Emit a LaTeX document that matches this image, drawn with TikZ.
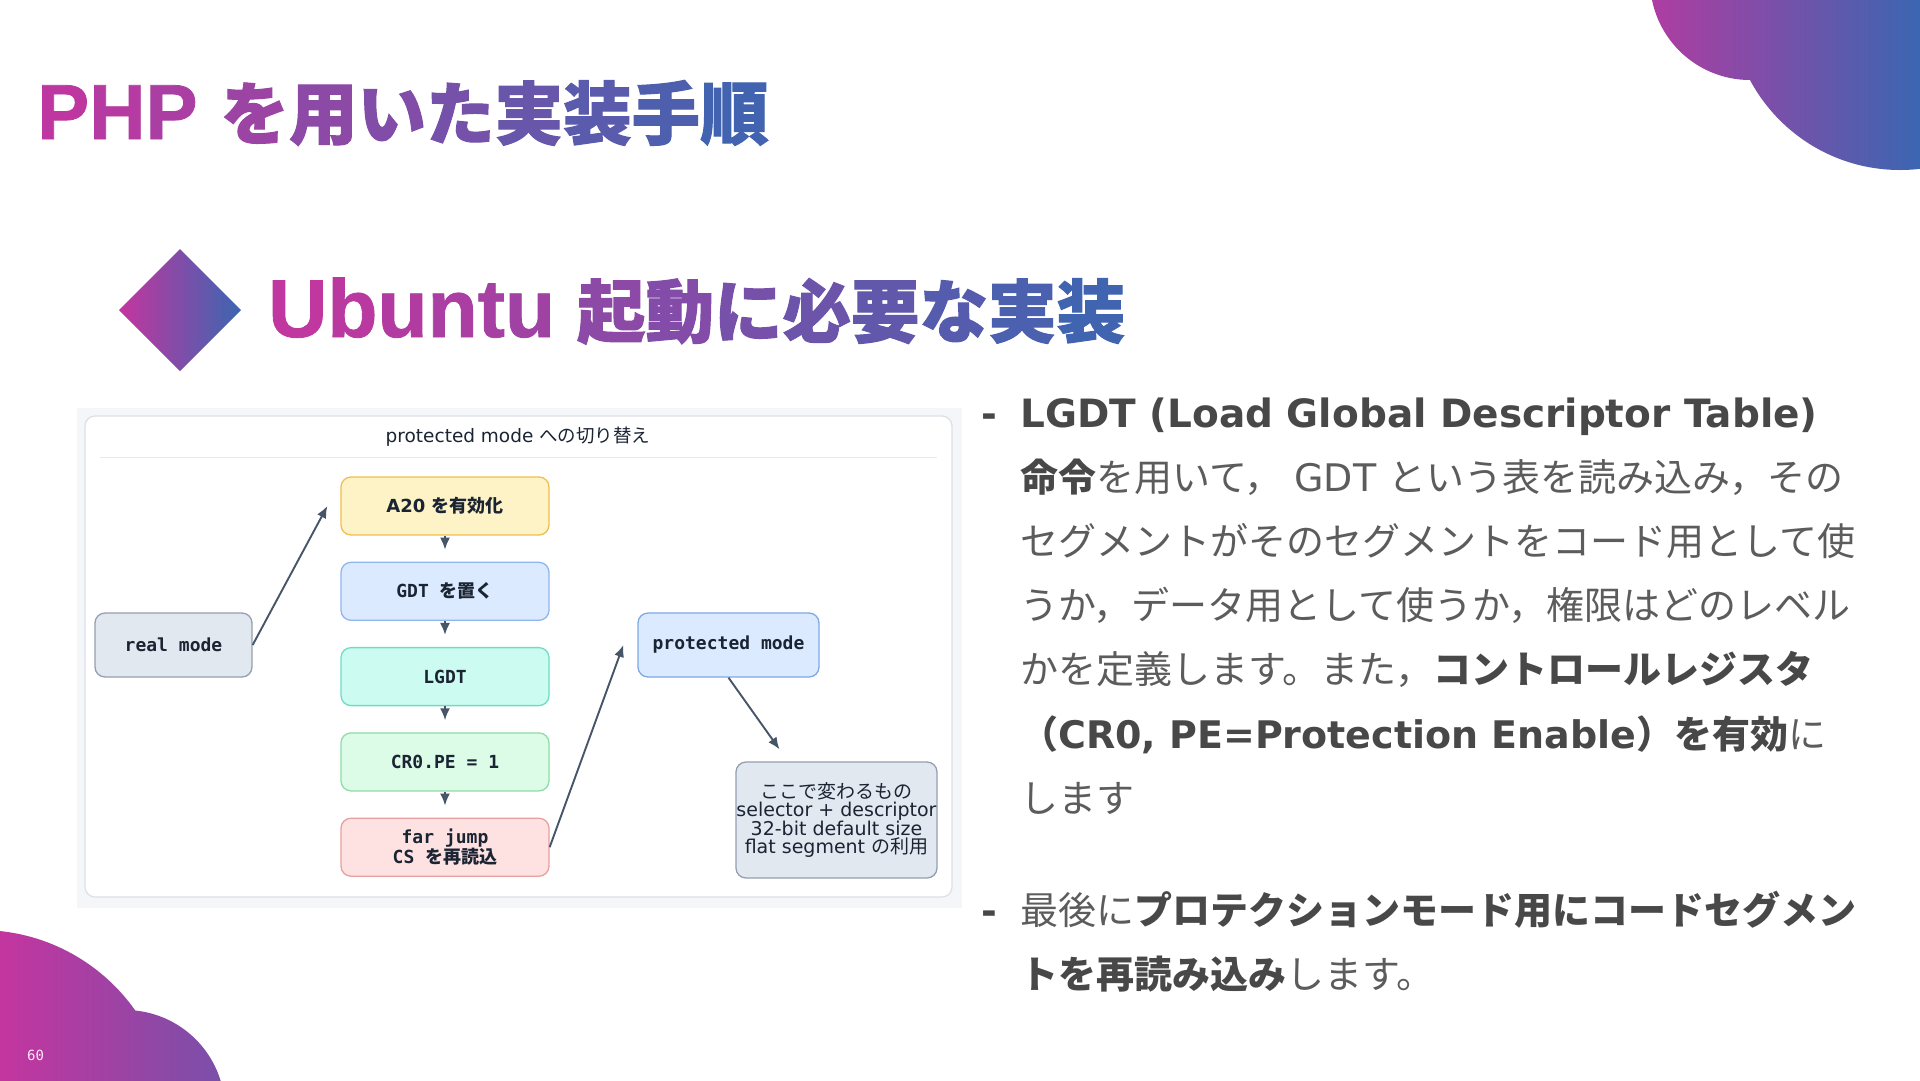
\documentclass[tikz,border=0pt]{standalone}
\usepackage{fontspec}
\setmainfont{DejaVu Sans}
\setmonofont{DejaVu Sans Mono}
\newfontfamily\jp{Noto Sans CJK JP}
\newfontfamily\jphead{Noto Sans CJK JP}[BoldFeatures={FakeBold=1.5}]
\newfontfamily\headlat{Liberation Sans}[BoldFeatures={FakeBold=1}]
\usepackage{tikz}
\usetikzlibrary{arrows.meta,positioning}
\usepackage{xcolor}
\definecolor{GradMag}{HTML}{C4359F}
\definecolor{GradBlue}{HTML}{3B66B1}
\definecolor{BodyGray}{HTML}{5C5C5C}
\definecolor{BodyDark}{HTML}{484848}
\definecolor{PanelBg}{HTML}{F4F6F9}
\definecolor{PanelLine}{HTML}{DCE0E5}
\definecolor{DiagText}{HTML}{1B2433}
\definecolor{ArrowSlate}{HTML}{475569}
\definecolor{AmberFill}{HTML}{FEF3C7}
\definecolor{AmberLine}{HTML}{F0BE50}
\definecolor{SkyFill}{HTML}{DBEAFE}
\definecolor{SkyLine}{HTML}{8FB6EE}
\definecolor{MintFill}{HTML}{CCFBF1}
\definecolor{MintLine}{HTML}{6FDCC5}
\definecolor{LeafFill}{HTML}{DCFCE7}
\definecolor{LeafLine}{HTML}{8EDCA8}
\definecolor{RoseFill}{HTML}{FEE2E2}
\definecolor{RoseLine}{HTML}{E8A0A0}
\definecolor{SlateFill}{HTML}{E2E8F0}
\definecolor{SlateLine}{HTML}{949FB0}
\definecolor{PmLine}{HTML}{7FA8E6}
\newcommand\gc[2]{\textcolor{GradBlue!#1!GradMag}{#2}}
\newcommand\ja[1]{{\jp #1}}
\newcommand\bodybf[1]{{\bfseries\color{BodyDark}#1}}

\begin{document}
\begin{tikzpicture}[x=1pt,y=-1pt,>=Latex,
  stepbox/.style={draw, rounded corners=10pt, line width=1.3pt, minimum width=208pt, minimum height=58pt, align=center, text=DiagText, inner sep=2pt},
  codefont/.style={font=\ttfamily\bfseries\fontsize{18}{18}\selectfont},
  flow/.style={-{Latex[length=12pt,width=10pt]}, line width=1.9pt, draw=ArrowSlate},
  bodytext/.style={anchor=base west, inner sep=0pt, text=BodyGray, font=\fontsize{38}{64}\selectfont}]
  \useasboundingbox (0,0) rectangle (1920,1080);
  \fill[white] (0,0) rectangle (1920,1080);

  % corner blobs
  \begin{scope}
    \clip (1750,-20) circle (100pt) (1900,0) circle (170pt);
    \shade[left color=GradMag!85!GradBlue, right color=GradBlue] (1650,0) rectangle (1920,175);
  \end{scope}
  \begin{scope}
    \clip (-20,1120) circle (190pt) (125,1110) circle (100pt);
    \shade[left color=GradMag, right color=GradMag!45!GradBlue] (0,925) rectangle (226,1080);
  \end{scope}
  \node[font=\ttfamily\fontsize{14}{14}\selectfont, text=white!90!GradMag, anchor=base west, inner sep=0pt] (pgno) at (27,1060) {60};

  % headings
  \node[anchor=base west, inner sep=0pt] (slidetitle) at (37,139) {{\headlat\bfseries\fontsize{78}{80}\selectfont\gc{4}{P}\gc{11}{H}\gc{19}{P}}\hspace{23pt}{\jphead\bfseries\fontsize{68.5}{80}\selectfont\gc{30}{を}\gc{40}{用}\gc{49}{い}\gc{58}{た}\gc{67}{実}\gc{77}{装}\gc{86}{手}\gc{95}{順}}};
  \shade[left color=GradMag, right color=GradBlue] (119,310) -- (180,249) -- (241,310) -- (180,371) -- cycle;
  \node[anchor=base west, inner sep=0pt] (sectitle) at (268,337) {{\headlat\bfseries\fontsize{82}{84}\selectfont\gc{3}{U}\gc{8}{b}\gc{13}{u}\gc{18}{n}\gc{22}{t}\gc{27}{u}}\hspace{22pt}{\jphead\bfseries\fontsize{68.5}{80}\selectfont\gc{40}{起}\gc{48}{動}\gc{56}{に}\gc{64}{必}\gc{72}{要}\gc{80}{な}\gc{88}{実}\gc{96}{装}}};

  % diagram panel
  \fill[PanelBg] (77,408) rectangle (962,908);
  \draw[PanelLine, fill=white, line width=1.2pt, rounded corners=10pt] (85,416) rectangle (952,897);
  \node[font=\fontsize{18.5}{19}\selectfont, text=DiagText] (paneltitle) at (518,437) {protected mode \ja{への切り替え}};
  \draw[PanelLine!70, line width=1pt] (100,457) -- (937,457);

  \node[stepbox, fill=AmberFill, draw=AmberLine, font=\bfseries\fontsize{18}{18}\selectfont] (a20) at (445,506) {A20 \ja{を有効化}};
  \node[stepbox, fill=SkyFill, draw=SkyLine, codefont, below=26pt of a20] (gdt) {GDT \ja{を置く}};
  \node[stepbox, fill=MintFill, draw=MintLine, codefont, below=26pt of gdt] (lgdt) {LGDT};
  \node[stepbox, fill=LeafFill, draw=LeafLine, codefont, below=26pt of lgdt] (cr0) {CR0.PE = 1};
  \node[stepbox, fill=RoseFill, draw=RoseLine, codefont, below=26pt of cr0] (jump) {far jump\\CS \ja{を再読込}};
  \node[stepbox, fill=SlateFill, draw=SlateLine, codefont, minimum width=157pt, minimum height=64pt] (real) at (173.5,645) {real mode};
  \node[stepbox, fill=SkyFill, draw=PmLine, codefont, minimum width=181pt, minimum height=64pt] (pm) at (728.5,645) {protected mode};
  \node[stepbox, fill=SlateFill, draw=SlateLine, minimum width=201pt, minimum height=116pt, inner sep=0pt, font=\fontsize{19}{18.5}\selectfont] (chg) at (836.5,820) {\ja{ここで変わるもの}\\selector + descriptor\\32-bit default size\\flat segment \ja{の利用}};

  \draw[flow] (real.east) -- ([xshift=-13pt]a20.west);
  \foreach \a/\b in {a20/gdt,gdt/lgdt,lgdt/cr0,cr0/jump}
    \draw[flow, shorten >=12pt] (\a) -- (\b);
  \draw[flow] (jump.east) -- ([xshift=-14pt]pm.west);
  \draw[flow] (pm.south) -- ([xshift=-57pt,yshift=12pt]chg.north);

  % explanation text
  \node[bodytext] (dashA) at (981,427) {\bodybf{-}};
  \foreach \txt [count=\i from 0] in {
    {\bodybf{\fontsize{39}{64}\selectfont LGDT (Load Global Descriptor Table)}},
    {\bodybf{\ja{命令}}\ja{を用いて，} GDT \ja{という表を読み込み，その}},
    {\ja{セグメントがそのセグメントをコード用として使}},
    {\ja{うか，データ用として使うか，権限はどのレベル}},
    {\ja{かを定義します。また，}\bodybf{\ja{コントロールレジスタ}}},
    {\bodybf{\ja{（}CR0, PE=Protection Enable\ja{）を有効}}\ja{に}},
    {\ja{します}}}
    \node[bodytext] (bodyA\i) at (1020,{427+64.2*\i}) {\txt};
  \node[bodytext] (dashB) at (981,924) {\bodybf{-}};
  \foreach \txt [count=\i from 0] in {
    {\ja{最後に}\bodybf{\ja{プロテクションモード用にコードセグメン}}},
    {\bodybf{\ja{トを再読み込み}}\ja{します。}}}
    \node[bodytext] (bodyB\i) at (1020,{924+64.2*\i}) {\txt};
\end{tikzpicture}
\end{document}
